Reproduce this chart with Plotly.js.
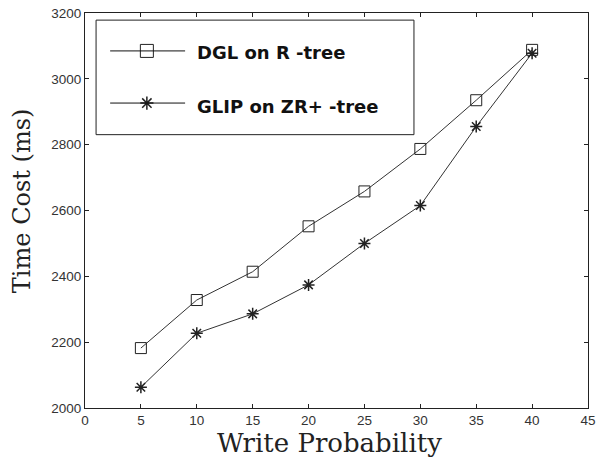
<!DOCTYPE html>
<html><head><meta charset="utf-8">
<script src="https://cdn.plot.ly/plotly-3.0.1.min.js"></script>
<style>html,body{margin:0;padding:0;background:#fff}#c{width:608px;height:464px}</style>
</head><body><div id="c"></div>
<script>
var writeProb = [5, 10, 15, 20, 25, 30, 35, 40];
var dglRtree = [2182, 2328, 2414, 2552, 2658, 2787, 2935, 3088];
var glipZRtree = [2063, 2227, 2286, 2374, 2500, 2615, 2855, 3078];
var seriesNames = ['DGL on R -tree', 'GLIP on ZR+ -tree'];
var xTicks = [0, 5, 10, 15, 20, 25, 30, 35, 40, 45];
var yTicks = [2000, 2200, 2400, 2600, 2800, 3000, 3200];
var xTitle = 'Write Probability';
var yTitle = 'Time Cost (ms)';

// legend layout (paper fractions)
var legY = [0.904, 0.772];
var legLineX = [0.05, 0.199];
var legMarkX = 0.123;
var legTextX = 0.219;

var lineStyle = {color: '#333', width: 1};
var markers = [
  {symbol: 'square-open', color: '#222', line: {width: 1}},
  {symbol: 'asterisk-open', color: '#222', line: {width: 1.5, color: '#222'}}
];
var traces = [
  {x: writeProb, y: dglRtree, name: seriesNames[0], mode: 'lines+markers', showlegend: false,
   line: lineStyle, marker: Object.assign({size: 11}, markers[0])},
  {x: writeProb, y: glipZRtree, name: seriesNames[1], mode: 'lines+markers', showlegend: false,
   line: lineStyle, marker: Object.assign({size: 10}, markers[1])},
  {x: [legMarkX], y: [legY[0]], xaxis: 'x2', yaxis: 'y2', mode: 'markers', showlegend: false, hoverinfo: 'skip',
   marker: Object.assign({size: 13}, markers[0])},
  {x: [legMarkX], y: [legY[1]], xaxis: 'x2', yaxis: 'y2', mode: 'markers', showlegend: false, hoverinfo: 'skip',
   marker: Object.assign({size: 11}, markers[1])}
];
var axisCommon = {showline: true, linecolor: '#222', linewidth: 1, mirror: 'ticks', ticks: 'inside', ticklen: 4,
  tickcolor: '#222', showgrid: false, zeroline: false, tickfont: {family: 'Liberation Sans, Arial', size: 13.5, color: '#333'}};
var hiddenAxis = {range: [0, 1], visible: false, showgrid: false, zeroline: false, fixedrange: true};
var legFont = {family: 'DejaVu Sans, sans-serif', size: 18, color: '#111', weight: 'bold'};
var titleFont = {family: 'DejaVu Serif, serif', size: 26, color: '#222'};
var layout = {
  width: 608, height: 464, margin: {l: 85, r: 20, t: 13, b: 56},
  paper_bgcolor: '#fff', plot_bgcolor: '#fff',
  xaxis: Object.assign({}, axisCommon, {range: [0, 45], tickvals: xTicks, ticktext: xTicks.map(String)}),
  yaxis: Object.assign({}, axisCommon, {range: [2000, 3200], tickvals: yTicks, ticktext: yTicks.map(String)}),
  xaxis2: Object.assign({overlaying: 'x'}, hiddenAxis),
  yaxis2: Object.assign({overlaying: 'y'}, hiddenAxis),
  showlegend: false,
  shapes: [
    {type: 'rect', xref: 'paper', yref: 'paper', x0: 0.022, x1: 0.654, y0: 0.692, y1: 0.982,
     line: {color: '#222', width: 1}, fillcolor: 'rgba(0,0,0,0)'},
    {type: 'line', xref: 'paper', yref: 'paper', x0: legLineX[0], x1: legLineX[1], y0: legY[0], y1: legY[0], line: {color: '#111', width: 1}},
    {type: 'line', xref: 'paper', yref: 'paper', x0: legLineX[0], x1: legLineX[1], y0: legY[1], y1: legY[1], line: {color: '#111', width: 1}}
  ],
  annotations: [
    {xref: 'paper', yref: 'paper', x: legTextX, y: legY[0] - 0.004, xanchor: 'left', yanchor: 'middle', showarrow: false, text: seriesNames[0], font: legFont},
    {xref: 'paper', yref: 'paper', x: legTextX, y: legY[1] - 0.008, xanchor: 'left', yanchor: 'middle', showarrow: false, text: seriesNames[1], font: legFont},
    {xref: 'paper', yref: 'paper', x: 0.487, y: -0.046, xanchor: 'center', yanchor: 'top', showarrow: false, text: xTitle, font: titleFont},
    {xref: 'paper', yref: 'paper', x: -0.125, y: 0.524, xanchor: 'center', yanchor: 'middle', textangle: -90, showarrow: false, text: yTitle, font: {family: 'DejaVu Serif, serif', size: 24, color: '#222'}}
  ]
};
Plotly.newPlot('c', traces, layout, {displayModeBar: false, staticPlot: true});
</script></body></html>
